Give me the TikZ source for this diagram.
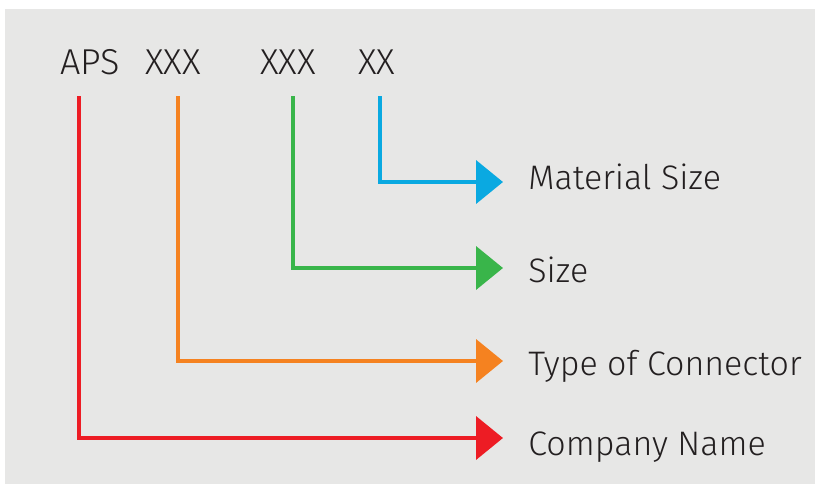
\documentclass[tikz,border=0pt]{standalone}
\usepackage{fontspec}
\setmainfont{Fira Sans}[UprightFont={* Light}]
\usetikzlibrary{arrows.meta}
\definecolor{bggray}{HTML}{E7E7E6}
\definecolor{txtgray}{HTML}{231F20}
\definecolor{apsred}{HTML}{ED1C24}
\definecolor{apsorange}{HTML}{F58220}
\definecolor{apsgreen}{HTML}{39B54A}
\definecolor{apsblue}{HTML}{0AA9E1}

\begin{document}
\begin{tikzpicture}[x=0.5pt,y=-0.5pt,
	code/.style ={anchor=base west, inner sep=0pt, text=txtgray, font=\fontsize{18}{22}\selectfont},
	label/.style ={anchor=base west, inner xsep=12.5pt, inner ysep=0pt, text=txtgray, font=\fontsize{17}{21}\selectfont},
	link/.style ={line width=2pt, -{Triangle[length=13.5pt,width=21.5pt]}}]
		\useasboundingbox (0,0) rectangle (815,484);
		\fill[bggray] (5,9) rectangle (815,484);
		% part number
		\node[code] (aps) at (60,74) {APS};
		\node[code] (type) at (145,74) {XXX};
		\node[code] (size) at (260,74) {XXX};
		\node[code] (mat) at (358,74) {XX};
		\coordinate (aps-s) at (79,96);
		\coordinate (type-s) at (178,96);
		\coordinate (size-s) at (293,96);
		\coordinate (mat-s) at (380,96);
		% meanings
		\node[label] (matname) at (503,189) {Material Size};
		\node[label] (sizename) at (503,282) {Size};
		\node[label] (typename) at (503,375) {Type of Connector};
		\node[label] (company) at (503,455) {Company Name};
		\draw[link, apsblue] (mat-s) |- ([yshift=3.5pt]matname.base west);
		\draw[link, apsgreen] (size-s) |- ([yshift=7pt]sizename.base west);
		\draw[link, apsorange] (type-s) |- ([yshift=7pt]typename.base west);
		\draw[link, apsred] (aps-s) |- ([yshift=8.5pt]company.base west);
	\end{tikzpicture}
\end{document}
